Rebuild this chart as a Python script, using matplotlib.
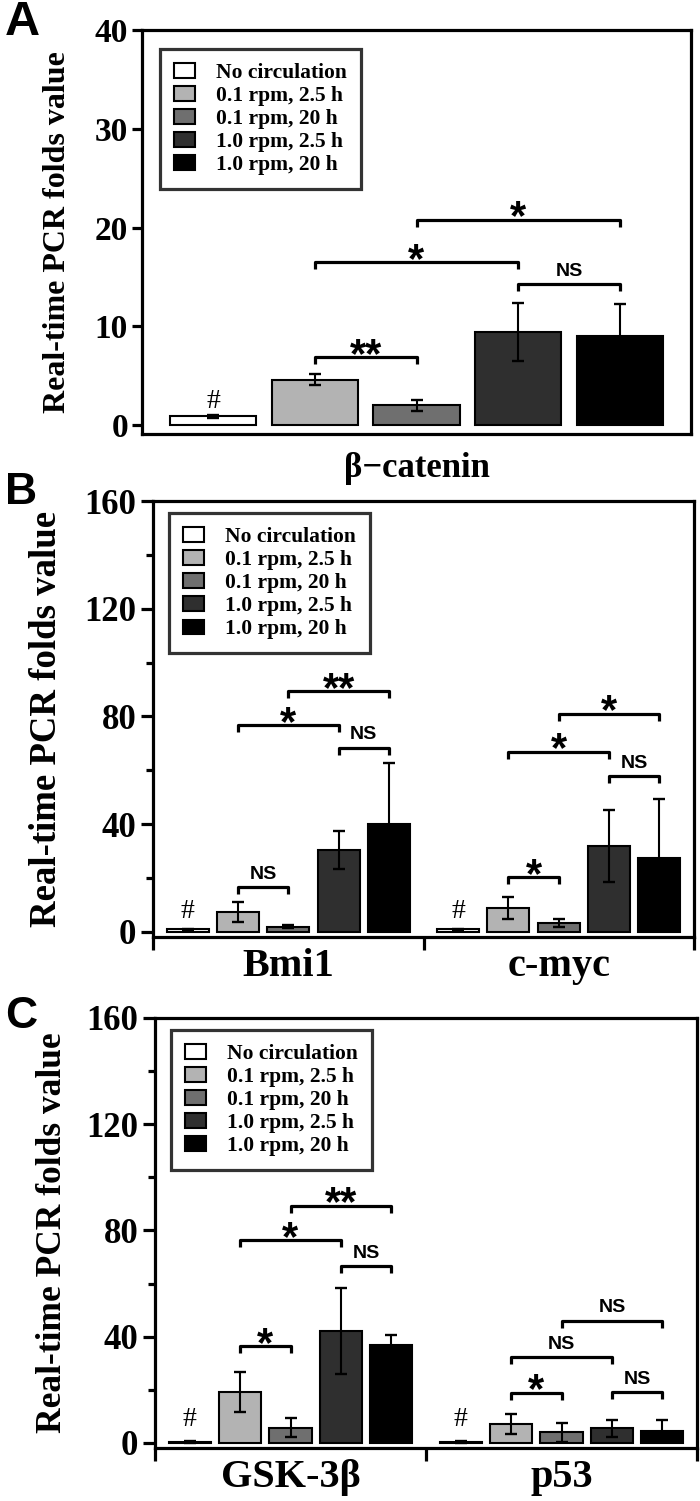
import matplotlib
matplotlib.use("Agg")
import numpy as np
import matplotlib.pyplot as plt
from matplotlib.patches import Patch

plt.rcParams["font.family"] = ["Liberation Serif", "DejaVu Serif"]
plt.rcParams["font.weight"] = "bold"
plt.rcParams["axes.labelweight"] = "bold"

SANS = ["Liberation Sans Narrow", "Liberation Sans", "DejaVu Sans"]

# -----------------------------
# Data
# -----------------------------
conditions = ["No circulation", "0.1 rpm, 2.5 h", "0.1 rpm, 20 h",
              "1.0 rpm, 2.5 h", "1.0 rpm, 20 h"]
bar_colors = ["#ffffff", "#b3b3b3", "#6f6f6f", "#2f2f2f", "#000000"]

# panel A
a_genes = ["\u03b2\u2212catenin"]
a_means = [[0.9, 4.6, 2.0, 9.4, 9.0]]
a_errs = [[0.15, 0.55, 0.55, 2.95, 3.3]]
a_hash = [2.4]
a_sig = [[(1, 2, 6.85, "**"), (1, 3, 16.5, "*"), (2, 4, 20.8, "*"), (3, 4, 14.3, "NS")]]

# panel B
b_genes = ["Bmi1", "c-myc"]
b_means = [[0.9, 7.4, 1.9, 30.3, 39.9],
           [0.9, 8.9, 3.3, 32.0, 27.5]]
b_errs = [[0.3, 3.6, 0.5, 7.0, 22.9],
          [0.3, 4.1, 1.5, 13.3, 22.0]]
b_hash = [7.4, 7.4]
b_sig = [[(1, 2, 16.7, "NS"), (1, 3, 76.8, "*"), (2, 4, 89.5, "**"), (3, 4, 68.4, "NS")],
         [(1, 2, 20.4, "*"), (1, 3, 66.9, "*"), (2, 4, 81.0, "*"), (3, 4, 57.8, "NS")]]

# panel C
c_genes = ["GSK-3\u03b2", "p53"]
c_means = [[0.5, 19.2, 5.8, 42.0, 36.9],
           [0.4, 7.0, 4.1, 5.5, 4.4]]
c_errs = [[0.4, 7.4, 3.6, 16.2, 3.8],
          [0.3, 3.8, 3.6, 3.2, 4.2]]
c_hash = [9.0, 9.0]
c_sig = [[(1, 2, 36.5, "*"), (1, 3, 76.4, "*"), (2, 4, 89.3, "**"), (3, 4, 66.6, "NS")],
         [(1, 2, 18.9, "*"), (1, 3, 32.2, "NS"), (2, 4, 46.1, "NS"), (3, 4, 19.2, "NS")]]

W, H = 700, 1501
fig = plt.figure(figsize=(W / 100, H / 100), dpi=100)


def add_axes(x0, y_top, x1, y_bot):
    return fig.add_axes([x0 / W, 1 - y_bot / H, (x1 - x0) / W, (y_bot - y_top) / H])


def draw_panel(ax, genes, means, errs, hashes, sigs, step, width, ylim):
    ax.set_ylim(*ylim)
    h_px = ax.get_position().height * H
    drop = 7 * (ylim[1] - ylim[0]) / h_px
    for g in range(len(genes)):
        x = g + (np.arange(5) - 2) * step
        ax.bar(x, means[g], width, color=bar_colors, edgecolor="black",
               linewidth=1.5, zorder=2)
        ax.errorbar(x, means[g], yerr=errs[g], fmt="none", ecolor="black",
                    elinewidth=1.5, capsize=4.3, capthick=1.7, zorder=3)
        ax.text(x[0], hashes[g], "#", ha="center", va="center", fontsize=20,
                fontweight="normal", zorder=4)
        for i, j, y, lab in sigs[g]:
            ax.plot([x[i], x[i], x[j], x[j]], [y - drop, y, y, y - drop],
                    color="black", lw=2.3, solid_capstyle="butt", zorder=4)
            xm = (x[i] + x[j]) / 2
            if lab == "NS":
                ax.annotate(lab, (xm, y), xytext=(0, 6), textcoords="offset points",
                            ha="center", va="baseline", fontsize=14,
                            family=SANS, fontweight="bold")
            else:
                ax.annotate(lab, (xm, y), xytext=(0, -7), textcoords="offset points",
                            ha="center", va="baseline", fontsize=30,
                            family=SANS, fontweight="bold")
    for s in ax.spines.values():
        s.set_linewidth(2.3)
    ax.tick_params(axis="y", direction="out", width=2.3)
    ax.tick_params(axis="y", which="minor", direction="out", width=2.3, length=5)


def add_legend(ax, left, top):
    handles = [Patch(facecolor=c, edgecolor="black", linewidth=1.5) for c in bar_colors]
    leg = ax.legend(handles, conditions, loc="upper left", bbox_to_anchor=(left, top),
                    frameon=True, fancybox=False, fontsize=15.5, borderpad=0.65,
                    labelspacing=0.14, handlelength=0.95, handleheight=0.65,
                    handletextpad=1.0, borderaxespad=0)
    leg.get_frame().set_edgecolor("black")
    leg.get_frame().set_linewidth(2.3)
    leg.set_zorder(5)


# -----------------------------
# Panel A
# -----------------------------
axA = add_axes(142, 30, 691, 434)
draw_panel(axA, a_genes, a_means, a_errs, a_hash, a_sig, 1.0, 0.85, (-0.9, 40))
axA.set_xlim(-2.7, 2.7)
axA.set_yticks([0, 10, 20, 30, 40])
axA.tick_params(axis="y", labelsize=24, length=7, pad=3)
axA.set_xticks([0])
axA.set_xticklabels(a_genes, fontsize=25)
axA.tick_params(axis="x", length=0, pad=13)
axA.set_ylabel("Real-time PCR folds value", fontsize=23)
axA.yaxis.set_label_coords(-0.128, 0.5)
add_legend(axA, 0.033, 0.953)

# -----------------------------
# Panels B and C
# -----------------------------
for box, genes, means, errs, hashes, sigs, lx, ltop, yfs in [
        ((153, 501, 694, 937), b_genes, b_means, b_errs, b_hash, b_sig, -0.165, 0.972, 26.5),
        ((155, 1018, 697, 1448), c_genes, c_means, c_errs, c_hash, c_sig, -0.159, 0.972, 25.5)]:
    ax = add_axes(*box)
    draw_panel(ax, genes, means, errs, hashes, sigs, 0.186, 0.155, (-1.9, 160))
    ax.set_xlim(-0.5, 1.5)
    ax.set_yticks([0, 40, 80, 120, 160])
    ax.set_yticks([20, 60, 100, 140], minor=True)
    ax.tick_params(axis="y", labelsize=25, length=9, pad=3)
    ax.set_xticks([0, 1])
    ax.set_xticklabels(genes, fontsize=29)
    ax.set_xticks([-0.5, 0.5, 1.5], minor=True)
    ax.tick_params(axis="x", which="major", length=0, pad=8)
    ax.tick_params(axis="x", which="minor", direction="out", length=9, width=2.3)
    ax.set_ylabel("Real-time PCR folds value", fontsize=yfs)
    ax.yaxis.set_label_coords(lx, 0.5)
    add_legend(ax, 0.03, ltop)

# panel letters
for lab, y, fs in [("A", 0, 35), ("B", 472, 32), ("C", 996, 32)]:
    fig.text(5 / W, 1 - y / H, lab, ha="left", va="top", fontsize=fs,
             family=SANS, fontweight="bold")

fig.savefig("out.png", dpi=100)
